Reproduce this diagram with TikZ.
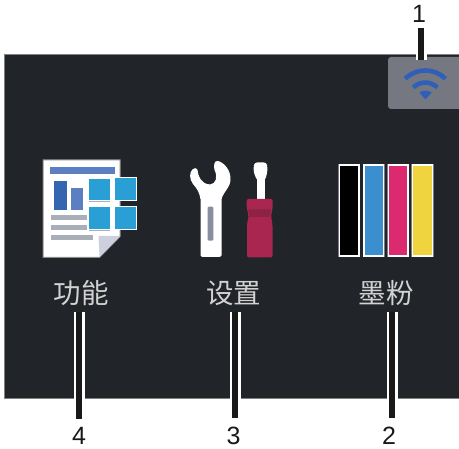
\documentclass[tikz,border=0pt]{standalone}
\usepackage{fontspec}
\setmainfont{Liberation Sans}
\newfontfamily\cjk{Noto Sans CJK SC}
\definecolor{panelc}{HTML}{212428}
\definecolor{wifibox}{HTML}{757880}
\definecolor{wifiblue}{HTML}{2F5FB8}
\definecolor{barlight}{HTML}{5B7FC1}
\definecolor{bardark}{HTML}{3565B0}
\definecolor{textline}{HTML}{A9AFB8}
\definecolor{tile}{HTML}{2A9FD6}
\definecolor{foldc}{HTML}{CDD1DF}
\definecolor{slotc}{HTML}{8A8CA0}
\definecolor{crimson}{HTML}{A8264F}
\definecolor{crimsond}{HTML}{8C2244}
\definecolor{tonerb}{HTML}{3B8FCE}
\definecolor{tonerm}{HTML}{DC2A70}
\definecolor{tonery}{HTML}{EFD33F}
\definecolor{labelc}{HTML}{D2D2D2}
\definecolor{halo}{HTML}{7A7C82}
\tikzset{
  iconlabel/.style={text=labelc,font=\cjk\fontsize{27.5}{28}\selectfont,inner sep=0pt},
  numlabel/.style={text=black!90,font=\fontsize{25}{25}\selectfont,inner sep=0pt},
  leaderhalo/.style={draw=white,line width=11pt},
  leader/.style={draw=black!90,line width=6pt},
  tilebox/.style={fill=tile,draw=white,line width=0.9pt},
  tonerbox/.style={draw=white,line width=1.3pt},
  tonerglow/.style={draw=halo,line width=2.8pt},
  wifiarc/.style={draw=wifiblue,line width=4.6pt},
}
\begin{document}
\begin{tikzpicture}[x=1pt,y=-1pt]
\useasboundingbox (0,0) rectangle (459,449);
% panel
\fill[white] (0,0) rectangle (459,449);
\fill[panelc] (4,55) rectangle (459,398);
\draw[black!50,line width=0.8pt] (459,54.5) -- (4,54.5) -- (4,398) -- (459,398);
% wifi button
\fill[wifibox,rounded corners=3pt] (388,57) rectangle (464,109);
\draw[wifiarc] (405.2,78.8) .. controls (416.3,67.7) and (434.3,67.7) .. (445.4,78.8);
\draw[wifiarc] (413.3,87.5) .. controls (419.9,80.9) and (430.7,80.9) .. (437.3,87.5);
\fill[wifiblue] (419.3,92.5) .. controls (423,90) and (428,90) .. (431.7,92.5) -- (425.5,99.5) -- cycle;
% document icon
\fill[white,draw=black!45,line width=1pt] (43,160) -- (120,160) -- (120,236.5) -- (99.5,257.5) -- (43,257.5) -- cycle;
\fill[foldc] (98.5,236) -- (120,236) -- (99.5,257) -- cycle;
\fill[barlight] (49.5,166.7) rectangle (114.5,173.7);
\fill[bardark] (53.7,180.7) rectangle (66.7,210);
\fill[barlight] (71,188.3) rectangle (82.7,210);
\fill[textline] (50.7,215.5) rectangle (87,220);
\fill[textline] (50.7,225.5) rectangle (87,230);
\fill[textline] (50.7,235.5) rectangle (92.7,240);
\fill[textline] (88.5,201.5) rectangle (110,202.5);
\fill[textline] (88.5,230.5) rectangle (110,231.5);
\draw[tilebox] (88.3,178) rectangle (110,200);
\draw[tilebox] (114,177.5) rectangle (136.5,200);
\draw[tilebox] (88.3,206.5) rectangle (110,229);
\draw[tilebox] (114,206) rectangle (136.5,229);
% wrench
\fill[white,rounded corners=1.5pt] (200.5,195) -- (221.5,195) -- (221.5,257) -- (200.5,257) -- cycle;
\fill[white] (200.5,199) .. controls (199,192) and (198,190) .. (193,184)
  .. controls (189,179) and (189.5,172) .. (192.5,169.5)
  .. controls (195,167.5) and (197,168) .. (197.5,170)
  .. controls (198,176) and (201,184) .. (210,184.5)
  .. controls (216,184) and (218,177) .. (214.5,170)
  .. controls (213.5,166) and (214,160) .. (218,161)
  .. controls (225,163) and (231,171) .. (230.5,180)
  .. controls (230,188) and (224,191) .. (221.5,199) -- cycle;
\fill[slotc,rounded corners=1pt] (207.7,206.7) rectangle (213.3,240.7);
% screwdriver
\fill[white] (257.3,170) -- (264.7,170) -- (264.7,202) -- (257.3,202) -- cycle;
\fill[white,rounded corners=3pt] (253.5,172) -- (254,162.5) -- (267,162.5) -- (267.5,172) -- (264.7,181) -- (257.3,181) -- cycle;
\fill[crimson,rounded corners=2pt] (246.7,199) -- (272.7,199) -- (272.7,208) -- (271,216) -- (272.5,224) -- (272.5,257.5) -- (247,257.5) -- (247,224) -- (248.7,216) -- (246.7,208) -- cycle;
\fill[crimsond] (248,209.5) -- (271,209.5) -- (269.5,217) -- (249.5,217) -- cycle;
% toner bars
\foreach \xa/\xb/\c in {339.3/359/black,364/383.3/tonerb,388.7/408/tonerm,412.7/432.3/tonery}{
  \draw[tonerglow] (\xa,165) rectangle (\xb,256);
  \fill[\c] (\xa,165) rectangle (\xb,256);
  \draw[tonerbox] (\xa,165) rectangle (\xb,256);
}
% labels
\node[iconlabel] (t4) at (81,293.5) {功能};
\node[iconlabel] (t3) at (233.5,293.5) {设置};
\node[iconlabel] (t2) at (386,293.5) {墨粉};
\node[numlabel] (n1) at (419,14) {1};
\node[numlabel] (n2) at (389,436) {2};
\node[numlabel] (n3) at (233.5,436) {3};
\node[numlabel] (n4) at (79,436) {4};
% leaders
\coordinate (a1) at (421,28); \coordinate (b1) at (421,60.5);
\coordinate (a2) at (392,312); \coordinate (b2) at (392,418);
\coordinate (a3) at (235,312); \coordinate (b3) at (235,418);
\coordinate (a4) at (79,312); \coordinate (b4) at (79,419);
\foreach \i in {1,2,3,4}{
  \draw[leaderhalo] (a\i) -- (b\i);
  \draw[leader] (a\i) -- (b\i);
}
\end{tikzpicture}
\end{document}
